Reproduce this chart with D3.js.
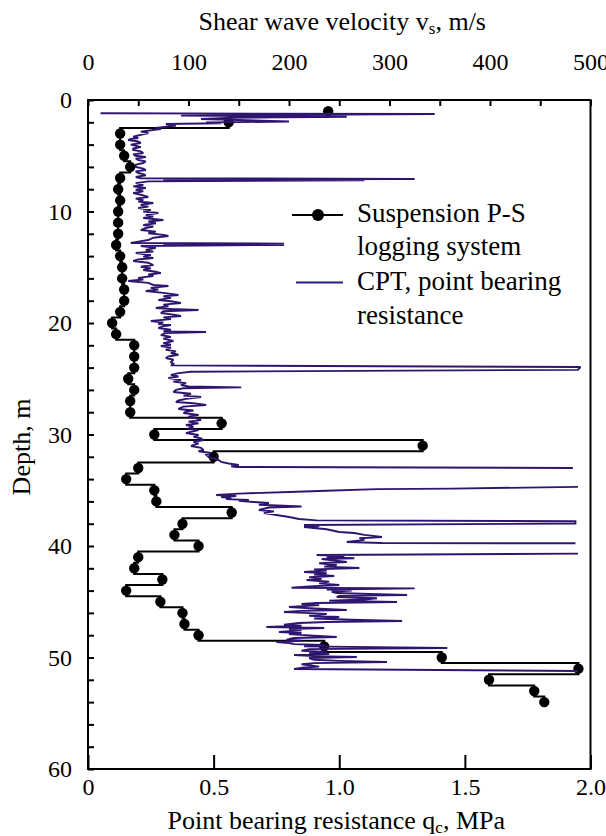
<!DOCTYPE html>
<html><head><meta charset="utf-8">
<script src="https://cdn.jsdelivr.net/npm/d3@7"></script>
<style>html,body{margin:0;padding:0;background:#fff;}svg{display:block;}</style>
</head><body>
<svg id="chart" width="606" height="836"></svg>
<script>
// ---- Data ----
// Suspension P-S logging: depth (m) and shear wave velocity (m/s)
const psDepth = [1,2,3,4,5,6,7,8,9,10,11,12,13,14,15,16,17,18,19,20,21,22,23,24,25,26,27,28,29,30,31,32,33,34,35,36,37,38,39,40,41,42,43,44,45,46,47,48,49,50,51,52,53,54];
const psVs = [239,140,32,32,36,42,32,30,32,30,30,30,28,32,34,34,36,36,32,24,28,46,46,46,40,46,42,42,133,66,333,125,50,38,66,68,143,94,86,110,50,46,74,38,72,94,96,110,235,352,488,399,444,454];
// CPT record: [depth m, qc MPa]; null = gap in the record
const cptRecord = [
 [1.19,0.05],[1.26,1.38],[1.40,0.37],[1.50,1.03],[1.60,0.55],[1.70,0.45],[1.93,0.80],[2.02,0.47],[2.08,0.53],[2.15,0.31],[2.29,0.35],[2.51,0.27],[2.60,0.29],[2.84,0.21],[2.96,0.24],[3.29,0.18],[3.41,0.20],[3.50,0.17],[3.59,0.16],[3.72,0.20],[3.86,0.21],[4.00,0.17],[4.10,0.19],[4.22,0.21],[4.35,0.18],[4.48,0.18],[4.60,0.21],[4.75,0.22],[4.88,0.18],[5.00,0.19],[5.11,0.23],[5.25,0.19],[5.38,0.20],[5.50,0.23],[5.65,0.22],[5.80,0.19],[6.01,0.19],[6.15,0.22],[6.28,0.23],[6.40,0.19],[6.55,0.20],[6.65,0.22],[6.75,0.23],[6.91,0.19],[7.02,0.21],
 [7.08,1.30],[7.14,0.30],[7.20,1.10],[7.30,0.24],[7.45,0.19],[7.62,0.22],[7.75,0.18],[7.89,0.23],[8.05,0.19],[8.20,0.22],[8.34,0.18],[8.50,0.21],[8.70,0.24],[8.85,0.19],[8.97,0.22],[9.10,0.20],[9.24,0.26],[9.40,0.21],[9.55,0.24],[9.69,0.20],[9.85,0.25],[10.00,0.22],[10.13,0.28],[10.30,0.23],[10.45,0.26],[10.58,0.22],[10.76,0.30],[10.90,0.24],[11.05,0.27],[11.21,0.22],[11.35,0.26],[11.48,0.23],[11.66,0.21],[11.80,0.27],[11.95,0.24],[12.10,0.30],[12.20,0.32],[12.35,0.26],[12.56,0.24],[12.70,0.20],[12.83,0.17],
 [12.88,0.78],[12.95,0.30],[13.00,0.78],[13.09,0.21],[13.25,0.27],[13.45,0.23],[13.60,0.26],[13.72,0.19],[13.90,0.25],[14.05,0.22],[14.17,0.26],[14.30,0.20],[14.44,0.18],[14.60,0.24],[14.80,0.26],[14.95,0.21],[15.10,0.25],[15.25,0.22],[15.40,0.27],[15.52,0.29],[15.65,0.24],[15.78,0.26],[15.95,0.20],[16.10,0.22],[16.23,0.16],[16.40,0.24],[16.59,0.26],[16.68,0.32],[16.85,0.25],[17.00,0.28],[17.13,0.23],[17.30,0.30],[17.49,0.36],[17.60,0.30],[17.75,0.33],[17.94,0.28],[18.05,0.33],[18.21,0.37],[18.35,0.30],[18.50,0.32],[18.65,0.27],[18.75,0.33],[18.83,0.44],[18.95,0.30],[19.10,0.29],[19.25,0.34],[19.37,0.37],[19.50,0.30],[19.65,0.33],[19.82,0.25],[19.95,0.30],[20.10,0.28],[20.18,0.33],[20.30,0.30],[20.45,0.28],[20.60,0.33],[20.75,0.30],[20.81,0.47],[20.90,0.31],[21.08,0.29],[21.25,0.33],[21.40,0.30],[21.61,0.34],[21.80,0.30],[21.95,0.33],[22.06,0.29],[22.20,0.33],[22.40,0.31],[22.55,0.35],[22.69,0.33],[22.85,0.36],[23.00,0.32],[23.14,0.31],[23.30,0.34],[23.50,0.33],[23.65,0.34],[23.80,0.33],
 [23.95,1.96],[24.20,1.95],[24.37,0.41],[24.50,0.36],[24.65,0.33],[24.80,0.36],[24.93,0.32],[25.10,0.37],[25.25,0.34],[25.40,0.39],[25.56,0.37],[25.70,0.40],[25.77,0.61],[25.85,0.38],[26.00,0.35],[26.19,0.34],[26.35,0.41],[26.50,0.38],[26.64,0.45],[26.80,0.39],[26.95,0.36],[27.09,0.35],[27.20,0.42],[27.35,0.47],[27.50,0.38],[27.71,0.36],[27.85,0.42],[27.95,0.39],[28.07,0.38],[28.25,0.44],[28.40,0.40],[28.55,0.43],[28.70,0.45],[28.85,0.40],[29.00,0.44],[29.15,0.39],[29.30,0.42],[29.45,0.40],[29.60,0.44],[29.75,0.41],[29.87,0.39],[30.05,0.44],[30.20,0.42],[30.35,0.45],[30.49,0.46],[30.65,0.42],[30.80,0.44],[31.03,0.41],[31.20,0.45],[31.39,0.46],[31.50,0.44],[31.66,0.49],[31.80,0.47],[32.02,0.48],[32.15,0.50],[32.29,0.52],[32.45,0.53],[32.60,0.56],[32.74,0.60],[32.85,0.57],[32.91,0.59],[33.00,1.93],
 null,
 [34.70,1.95],[34.85,1.45],[34.90,1.15],[35.05,0.95],[35.16,0.80],[35.30,0.60],[35.43,0.51],[35.52,0.59],[35.60,0.53],[35.70,0.57],[35.80,0.55],[35.87,0.64],[35.95,0.60],[36.05,0.66],[36.14,0.72],[36.30,0.68],[36.46,0.85],[36.55,0.72],[36.77,0.68],[36.90,0.74],[37.05,0.70],[37.22,0.75],[37.40,0.80],[37.58,0.84],[37.70,0.91],[37.78,1.94],[37.98,1.94],[38.12,0.86],[38.20,0.92],[38.30,0.86],[38.50,0.95],[38.74,1.00],[38.83,1.06],[39.00,1.10],[39.19,1.17],[39.30,1.08],[39.45,1.10],[39.64,1.03],[39.73,1.17],[39.76,1.94],
 null,
 [40.68,1.95],[40.81,0.91],[40.90,1.02],[41.00,0.95],[41.10,1.06],[41.17,0.93],[41.30,0.98],[41.43,1.03],[41.55,0.92],[41.70,0.99],[41.85,0.94],[41.97,1.08],[42.10,0.90],[42.20,0.95],[42.33,0.86],[42.45,0.95],[42.55,0.90],[42.69,0.98],[42.80,0.88],[42.95,0.93],[43.05,0.87],[43.20,0.96],[43.35,0.92],[43.50,1.00],[43.62,0.88],[43.74,0.81],[43.80,1.30],[43.90,0.95],[44.00,1.05],[44.10,0.97],[44.22,0.99],[44.30,1.12],[44.39,1.27],[44.47,1.00],[44.57,0.99],[44.68,1.15],[44.80,1.10],[44.90,0.96],[45.02,1.23],[45.11,0.91],[45.20,0.85],[45.30,0.92],[45.47,0.80],[45.60,0.90],[45.74,1.03],[45.82,0.85],[45.92,0.78],[46.00,0.86],[46.10,0.95],[46.25,0.88],[46.37,1.00],[46.50,0.90],[46.62,1.05],[46.73,1.25],[46.82,0.95],[46.91,0.84],[47.05,0.78],[47.15,0.85],[47.26,0.71],[47.35,0.94],[47.45,0.80],[47.55,0.85],[47.71,0.76],[47.80,0.85],[47.90,0.80],[48.05,0.90],[48.16,0.99],[48.25,0.82],[48.40,0.79],[48.50,0.85],[48.61,0.75],[48.70,0.80],[48.80,0.82],[48.88,0.94],[49.00,0.86],[49.15,1.43],[49.25,0.88],[49.40,0.85],[49.50,0.95],[49.60,0.88],[49.70,0.96],[49.78,0.82],[49.88,0.90],[49.96,1.07],[50.05,0.88],[50.20,0.90],[50.30,1.00],[50.40,1.19],[50.50,0.90],[50.60,0.85],[50.70,0.88],[50.82,0.92],[50.90,0.86],[51.03,0.82],[51.21,1.95]
];
const depthTickLabels = [0,10,20,30,40,50,60];
const vsTickLabels = [0,100,200,300,400,500];
const qcTickLabels = ["0","0.5","1.0","1.5","2.0"];
const qcTickValues = [0,0.5,1.0,1.5,2.0];
const legendLabels = [["Suspension P-S","logging system"],["CPT, point bearing","resistance"]];

// ---- Layout ----
const L = 88, R = 590.5, T = 100, B = 769;
const FONT = "'Liberation Serif','Times New Roman',serif";
const CPT_COLOR = "#2e1670";

const svg = d3.select("#chart");
const y = d3.scaleLinear().domain([0,60]).range([T,B]);
const xVs = d3.scaleLinear().domain([0,500]).range([L,R]);
const xQc = d3.scaleLinear().domain([0,2]).range([L,R]);

// P-S step line (midpoint steps in depth)
const psPts = psDepth.map((d,i)=>({d, v:psVs[i]}));
const stepVerts = [];
psPts.forEach((p,i)=>{
  if(i===0){ stepVerts.push([p.v,p.d]); return; }
  const prev = psPts[i-1];
  const mid = (prev.d + p.d)/2;
  stepVerts.push([prev.v, mid]);
  stepVerts.push([p.v, mid]);
  stepVerts.push([p.v, p.d]);
});
svg.append("path")
  .attr("d", d3.line().x(d=>xVs(d[0])).y(d=>y(d[1]))(stepVerts))
  .attr("fill","none").attr("stroke","#000").attr("stroke-width",2);
svg.append("g").selectAll("circle").data(psPts).join("circle")
  .attr("cx",d=>xVs(d.v)).attr("cy",d=>y(d.d)).attr("r",5.2).attr("fill","#000");

// CPT trace
svg.append("path")
  .attr("d", d3.line().defined(d=>d!==null).x(d=>xQc(d[1])).y(d=>y(d[0]))(cptRecord))
  .attr("fill","none").attr("stroke",CPT_COLOR).attr("stroke-width",1.9)
  .attr("stroke-linejoin","miter").attr("stroke-miterlimit",2);

// ---- Axes ----
const styleAxis = g => {
  g.select(".domain").remove();
  g.selectAll("line").attr("stroke","#000").attr("stroke-width",2);
  g.selectAll("text").attr("font-family",FONT).attr("font-size",24).attr("fill","#000");
};
svg.append("g").attr("transform",`translate(${L},0)`)
  .call(d3.axisLeft(y).tickValues(d3.range(0,61,2)).tickSize(-6).tickPadding(16)
    .tickFormat(d=> depthTickLabels.includes(d) ? String(d) : ""))
  .call(styleAxis);
svg.append("g").attr("transform",`translate(0,${T})`)
  .call(d3.axisTop(xVs).tickValues(d3.range(0,501,50)).tickSize(-6).tickPadding(30)
    .tickFormat(d=> vsTickLabels.includes(d) ? String(d) : ""))
  .call(styleAxis);
svg.append("g").attr("transform",`translate(0,${B})`)
  .call(d3.axisBottom(xQc).tickValues(qcTickValues).tickSize(-14).tickPadding(9)
    .tickFormat((d,i)=> qcTickLabels[i]))
  .call(styleAxis);

svg.append("rect").attr("x",L).attr("y",T).attr("width",R-L).attr("height",B-T)
  .attr("fill","none").attr("stroke","#000").attr("stroke-width",2);

// ---- Titles ----
const topTitle = svg.append("text").attr("x",(L+R)/2+3).attr("y",30).attr("text-anchor","middle")
  .attr("font-family",FONT).attr("font-size",26).attr("fill","#000");
topTitle.append("tspan").text("Shear wave velocity v");
topTitle.append("tspan").attr("font-size",17).attr("dy",4).text("s");
topTitle.append("tspan").attr("dy",-4).text(", m/s");

const botTitle = svg.append("text").attr("x",(L+R)/2-3).attr("y",829).attr("text-anchor","middle")
  .attr("font-family",FONT).attr("font-size",26).attr("fill","#000");
botTitle.append("tspan").text("Point bearing resistance q");
botTitle.append("tspan").attr("font-size",17).attr("dy",4).text("c");
botTitle.append("tspan").attr("dy",-4).text(", MPa");

svg.append("text").attr("transform","translate(30,447) rotate(-90)").attr("text-anchor","middle")
  .attr("font-family",FONT).attr("font-size",26).attr("fill","#000").text("Depth, m");

// ---- Legend ----
const lg = svg.append("g");
lg.append("line").attr("x1",292).attr("x2",343).attr("y1",215).attr("y2",215).attr("stroke","#000").attr("stroke-width",2);
lg.append("circle").attr("cx",318).attr("cy",215).attr("r",6).attr("fill","#000");
lg.append("line").attr("x1",296).attr("x2",343).attr("y1",282.5).attr("y2",282.5).attr("stroke","#22208a").attr("stroke-width",2);
const lgY = [[221.5,255],[290,323.5]];
legendLabels.forEach((lines,i)=>{
  lines.forEach((t,j)=>{
    lg.append("text").attr("x",357).attr("y",lgY[i][j]).attr("font-family",FONT)
      .attr("font-size",27).attr("fill","#000").text(t);
  });
});
</script>
</body></html>
